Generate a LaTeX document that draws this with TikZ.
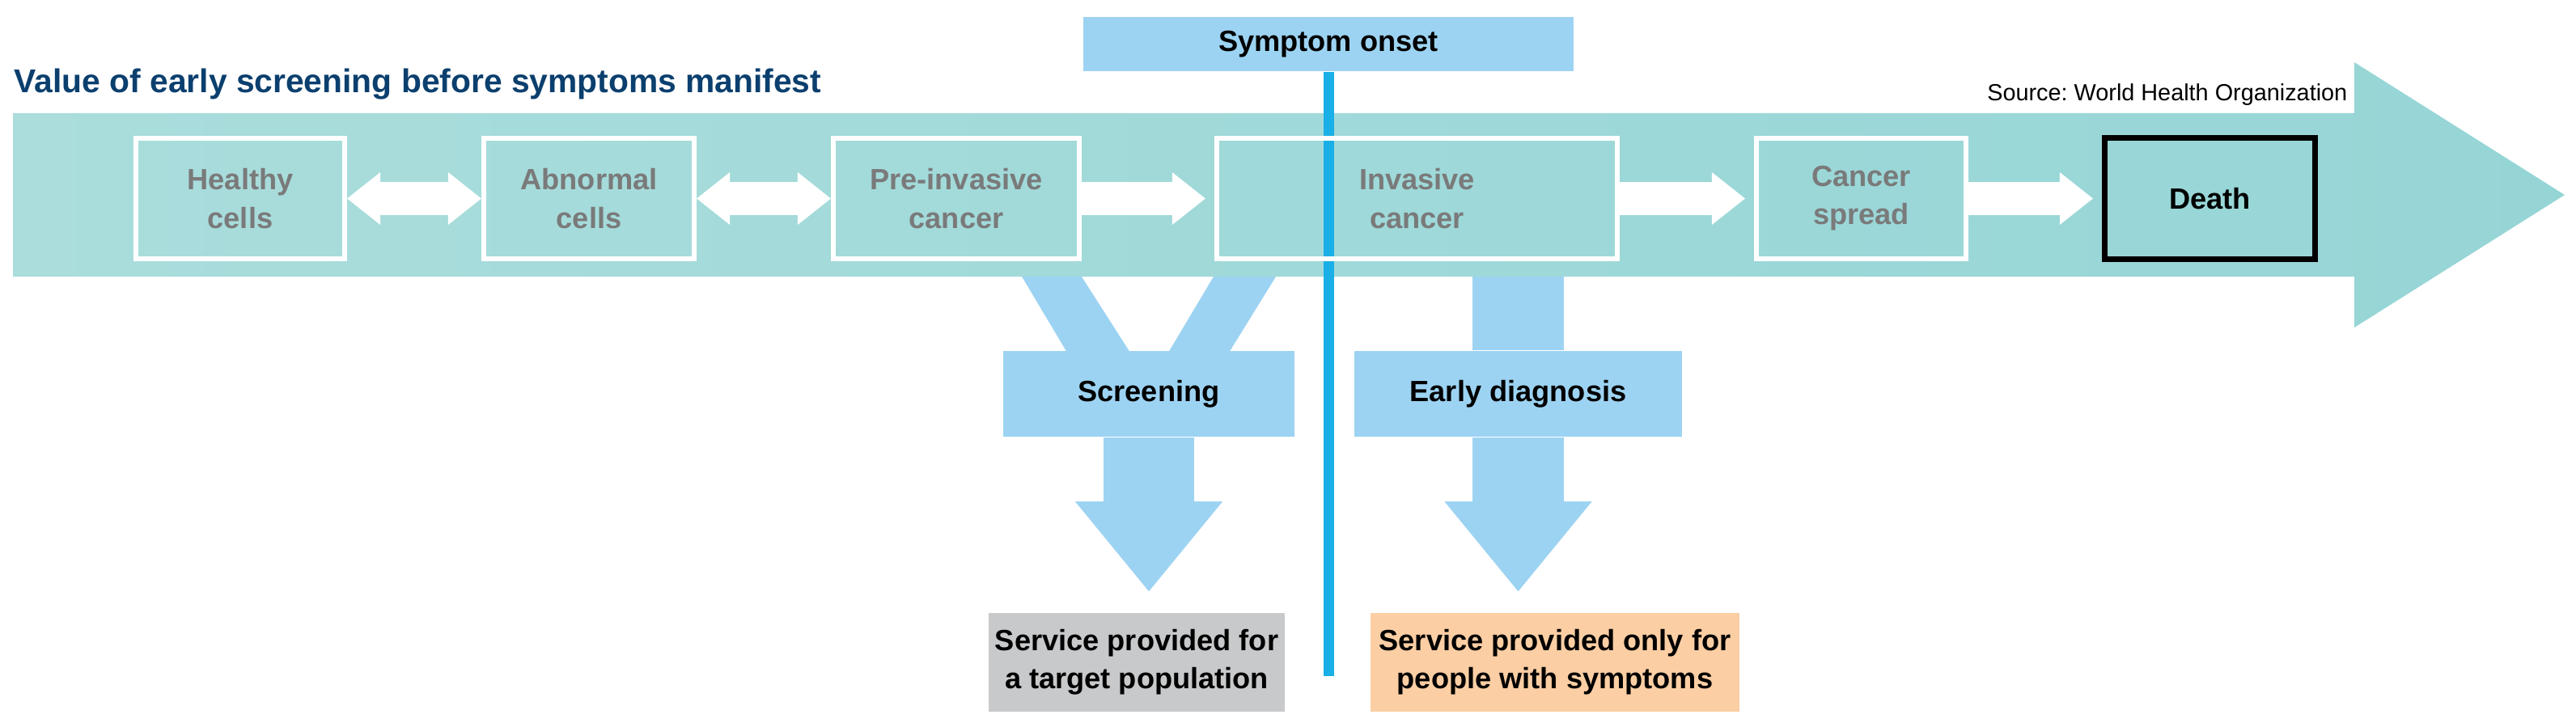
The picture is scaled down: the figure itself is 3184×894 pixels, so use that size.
\documentclass[tikz,border=0pt]{standalone}
\usepackage{fontspec}
\setmainfont{Liberation Sans}
\usetikzlibrary{arrows.meta}

\definecolor{bandleft}{RGB}{170,221,220}
\definecolor{bandright}{RGB}{150,213,214}
\definecolor{paleblue}{RGB}{157,211,242}
\definecolor{onsetblue}{RGB}{26,175,230}
\definecolor{titleblue}{RGB}{11,63,110}
\definecolor{stagegray}{RGB}{122,122,122}
\definecolor{servicegray}{RGB}{200,201,203}
\definecolor{serviceorange}{RGB}{251,206,164}

\newcommand{\labelfont}{\bfseries\fontsize{10.3}{13.4}\selectfont}

\pgfdeclarelayer{bottom}
\pgfdeclarelayer{background}
\pgfsetlayers{bottom,background,main}

\begin{document}
\frenchspacing
\begin{tikzpicture}[x=0.01cm, y=-0.01cm,
  stage/.style={draw=white, line width=1.7pt, minimum height=1.49cm, inner sep=0pt,
    align=center, text=stagegray, font=\labelfont},
  bluebox/.style={fill=paleblue, minimum height=1.06cm, inner sep=0pt, font=\labelfont},
  service/.style={minimum height=1.22cm, inner sep=0pt, align=center, font=\labelfont},
  flow/.style={white, line width=4mm, -{Triangle[width=6.5mm,length=4.1mm,line width=0pt]}, shorten >=1.1mm},
  flowboth/.style={white, line width=4mm, {Triangle[width=6.5mm,length=4.1mm,line width=0pt]}-{Triangle[width=6.5mm,length=4.1mm,line width=0pt]}},
  bigflow/.style={paleblue, line width=11.2mm, -{Triangle[width=18.2mm,length=11.1mm,line width=0pt]}, shorten >=2.6mm}]
\useasboundingbox (0,0) rectangle (3184,894);

% heading
\node[anchor=base west, inner sep=0pt, text=titleblue, font=\bfseries\fontsize{11.6}{14}\selectfont] (title) at (17,115) {Value of early screening before symptoms manifest};
\node[anchor=base east, inner sep=0pt, font=\fontsize{8.2}{10}\selectfont] (source) at (2902,125) {Source: World Health Organization};
\node[fill=paleblue, minimum width=6.06cm, minimum height=0.67cm, inner sep=0pt, font=\labelfont] (onset) at (1642,54.5) {Symptom onset};
\coordinate (lineend) at (1642,836);

% stages
\node[stage, minimum width=2.58cm] (healthy) at (297,245.5) {Healthy\\cells};
\node[stage, minimum width=2.60cm] (abnormal) at (728,245.5) {Abnormal\\cells};
\node[stage, minimum width=3.04cm] (preinvasive) at (1182,245.5) {Pre-invasive\\cancer};
\node[stage, minimum width=4.95cm] (invasive) at (1751.5,245.5) {Invasive\\cancer};
\node[stage, minimum width=2.59cm] (spread) at (2300.5,245.5) {Cancer\\spread};
\node[stage, draw=black, line width=2pt, text=black, minimum width=2.60cm] (death) at (2731.5,245.5) {Death};

% services
\node[bluebox, minimum width=3.6cm] (screening) at (1420,487) {Screening};
\node[bluebox, minimum width=4.05cm] (early) at (1876.5,487) {Early diagnosis};
\node[service, fill=servicegray, minimum width=3.66cm] (target) at (1405,819) {Service provided for\\a target population};
\node[service, fill=serviceorange, minimum width=4.56cm] (symptomatic) at (1922,819) {Service provided only for\\people with symptoms};

\draw[flowboth] (healthy) -- (abnormal);
\draw[flowboth] (abnormal) -- (preinvasive);
\draw[flow] (preinvasive) -- (invasive);
\draw[flow] (invasive) -- (spread);
\draw[flow] (spread) -- (death);

\draw[bigflow] (screening.south) -- (screening.south |- target.north);
\draw[bigflow] (early.south) -- (early.south |- symptomatic.north);

% timeline band
\begin{pgfonlayer}{background}
\shade[left color=bandleft, right color=bandright] (16,140) -- (2910,140) -- (2910,77) -- (3170,241) -- (2910,405) -- (2910,342) -- (16,342) -- cycle;
\draw[onsetblue, line width=1.3mm] (onset.south) -- (lineend);
\end{pgfonlayer}

% branches under the band
\begin{pgfonlayer}{bottom}
\fill[paleblue] (1238,300) -- (1310,300) -- (1397,436) -- (1319,436) -- cycle;
\fill[paleblue] (1525,300) -- (1603,300) -- (1519,436) -- (1444,436) -- cycle;
\draw[paleblue, line width=11.2mm] (early.north |- invasive.south) -- (early.north);
\end{pgfonlayer}
\end{tikzpicture}
\end{document}
